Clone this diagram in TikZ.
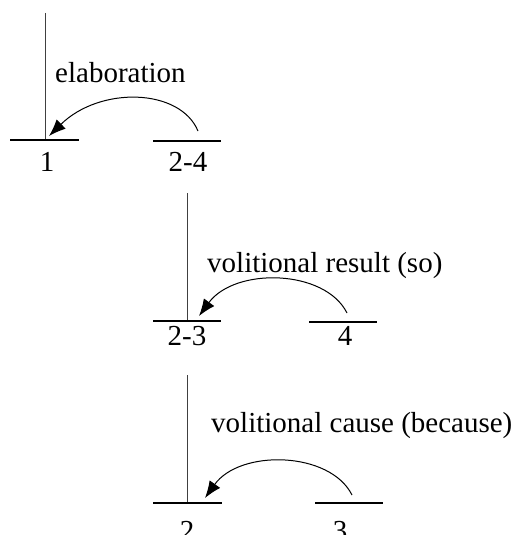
\documentclass[tikz,border=0pt]{standalone}
\usepackage{fontspec}
\setmainfont{Liberation Serif}
\usetikzlibrary{arrows.meta}
\begin{document}
\begin{tikzpicture}[x=1pt,y=-1pt,
  lbl/.style={inner sep=0pt,font=\fontsize{29}{34}\selectfont},
  stem/.style={draw=black!75,line width=1pt},
  base/.style={draw=black,line width=1.2pt},
  rel/.style={draw=black,line width=1pt,-{Latex[length=17pt,width=13pt]}}]
\useasboundingbox (0,0) rectangle (516,535);
\clip (0,0) rectangle (516,535);
% panel 1
\coordinate (s1t) at (45,13); \coordinate (s1b) at (45,140);
\coordinate (a1l) at (10,140); \coordinate (a1r) at (79,140);
\coordinate (b1l) at (153,141); \coordinate (b1r) at (221,141);
\draw[stem] (s1t) -- (s1b);
\draw[base] (a1l) -- (a1r);
\draw[base] (b1l) -- (b1r);
\node[lbl,anchor=base] (n1) at (47,171) {1};
\node[lbl,anchor=base] (n24) at (188,171) {2-4};
\node[lbl,anchor=base west] (e1) at (55,82) {elaboration};
\coordinate (r1s) at (198,131); \coordinate (r1e) at (49,136);
\draw[rel] (r1s) .. controls (180,88) and (100,86) .. (r1e);
% panel 2
\coordinate (s2t) at (187,193); \coordinate (s2b) at (187,321);
\coordinate (a2l) at (153,321); \coordinate (a2r) at (221,321);
\coordinate (b2l) at (309,322); \coordinate (b2r) at (377,322);
\draw[stem] (s2t) -- (s2b);
\draw[base] (a2l) -- (a2r);
\draw[base] (b2l) -- (b2r);
\node[lbl,anchor=base] (n23) at (187,345) {2-3};
\node[lbl,anchor=base] (n4) at (345,345) {4};
\node[lbl,anchor=base west] (e2) at (207,272) {volitional result (so)};
\coordinate (r2s) at (347,313); \coordinate (r2e) at (199,316);
\draw[rel] (r2s) .. controls (325,269) and (235,267) .. (r2e);
% panel 3
\coordinate (s3t) at (187,375); \coordinate (s3b) at (187,503);
\coordinate (a3l) at (153,503); \coordinate (a3r) at (222,503);
\coordinate (b3l) at (315,503); \coordinate (b3r) at (383,503);
\draw[stem] (s3t) -- (s3b);
\draw[base] (a3l) -- (a3r);
\draw[base] (b3l) -- (b3r);
\node[lbl,anchor=base] (n2) at (187,540) {2};
\node[lbl,anchor=base] (n3) at (340,540) {3};
\node[lbl,anchor=base west] (e3) at (211,432) {volitional cause (because)};
\coordinate (r3s) at (352,495); \coordinate (r3e) at (205,498);
\draw[rel] (r3s) .. controls (330,451) and (240,449) .. (r3e);
\end{tikzpicture}
\end{document}
